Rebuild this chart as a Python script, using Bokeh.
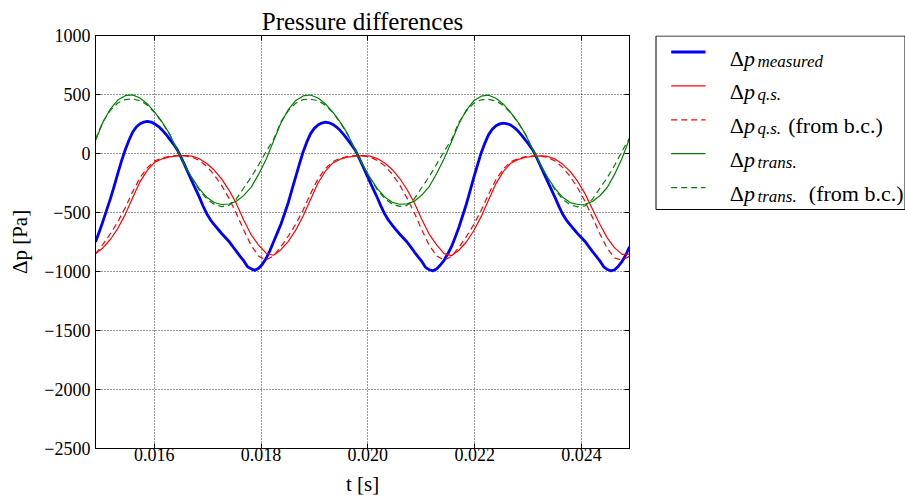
import numpy as np
from bokeh.plotting import figure
from bokeh.models import Range1d, LinearAxis, FixedTicker, CustomLabelingPolicy
from bokeh.layouts import row
from bokeh.embed import file_html
from bokeh.resources import INLINE
from bokeh.core.properties import value

# ---------------- data ----------------
T_START, T_END = 0.0149, 0.0249
t_fine = np.linspace(T_START, T_END, 145)    # grid of the measured curve
t = np.linspace(T_START, T_END, 73)          # grid of the model curves

DP_MEASURED = [
    -750, -665, -575, -480, -385, -280, -170, -65, 30, 110, 180, 225,
    252, 266, 272, 266, 250, 228, 198, 163, 122, 80, 35, -28,
    -95, -165, -235, -302, -370, -445, -510, -562, -603, -640, -678, -712,
    -745, -788, -830, -872, -910, -960, -978, -990, -972, -938, -890, -825,
    -750, -675, -600, -508, -415, -305, -195, -88, 15, 98, 168, 213,
    242, 258, 265, 260, 246, 224, 194, 158, 118, 75, 30, -33,
    -100, -170, -240, -308, -375, -448, -513, -565, -606, -645, -682, -716,
    -750, -792, -835, -876, -915, -965, -985, -994, -978, -945, -905, -850,
    -790, -710, -625, -528, -430, -318, -205, -98, 5, 88, 160, 206,
    236, 251, 257, 252, 240, 218, 188, 152, 112, 70, 25, -38,
    -105, -175, -243, -310, -378, -450, -515, -565, -604, -642, -679, -712,
    -745, -788, -830, -870, -910, -958, -983, -994, -985, -955, -915, -860,
    -790,
]
DP_QS = [
    -848, -800, -729, -636, -518, -378, -240, -141, -73, -45, -28, -20,
    -17, -22, -45, -85, -140, -215, -310, -425, -565, -690, -776, -845,
    -862, -815, -745, -650, -530, -390, -250, -150, -80, -48, -30, -22,
    -18, -22, -42, -80, -135, -210, -305, -420, -560, -685, -775, -848,
    -866, -820, -750, -655, -535, -395, -255, -152, -82, -50, -32, -24,
    -20, -25, -48, -92, -152, -235, -340, -470, -600, -715, -800, -855,
    -852,
]
DP_QS_BC = [
    -850, -770, -680, -580, -460, -325, -205, -120, -62, -38, -22, -17,
    -20, -30, -60, -110, -180, -270, -380, -510, -650, -780, -870, -902,
    -868, -790, -700, -598, -478, -340, -215, -128, -68, -40, -25, -18,
    -20, -30, -58, -105, -175, -265, -378, -505, -648, -778, -868, -905,
    -872, -795, -705, -602, -482, -345, -220, -130, -70, -42, -27, -20,
    -22, -33, -65, -120, -195, -290, -405, -540, -680, -805, -885, -905,
    -870,
]
DP_TRANS = [
    110, 265, 377, 453, 490, 497, 470, 420, 349, 265, 166, 30,
    -95, -205, -300, -370, -415, -432, -428, -405, -355, -285, -175, -50,
    105, 258, 372, 450, 488, 496, 470, 421, 350, 266, 166, 32,
    -92, -202, -298, -368, -414, -430, -427, -404, -352, -280, -170, -45,
    100, 252, 368, 447, 486, 494, 468, 418, 347, 262, 162, 28,
    -96, -206, -301, -371, -416, -432, -430, -407, -358, -288, -175, -40,
    125,
]
DP_TRANS_BC = [
    120, 270, 365, 428, 457, 462, 448, 410, 345, 262, 160, 30,
    -95, -210, -310, -385, -430, -450, -440, -385, -290, -200, -95, 15,
    118, 268, 363, 427, 456, 460, 447, 410, 346, 263, 160, 32,
    -92, -207, -308, -383, -428, -448, -440, -383, -288, -196, -90, 18,
    115, 265, 360, 425, 455, 459, 445, 408, 343, 260, 158, 28,
    -96, -212, -312, -388, -434, -452, -444, -388, -295, -205, -100, 20,
    130,
]

X_TICKS = [0.016, 0.018, 0.020, 0.022, 0.024]
X_TICK_LABELS = ["0.016", "0.018", "0.020", "0.022", "0.024"]
Y_TICKS = [-2500, -2000, -1500, -1000, -500, 0, 500, 1000]
Y_TICK_LABELS = ["\u22122500", "\u22122000", "\u22121500", "\u22121000", "\u2212500", "0", "500", "1000"]

LEGEND_SUB = ["measured", "q.s.", "q.s.", "trans.", "trans."]
LEGEND_SUFFIX = ["", "", "(from b.c.)", "", "(from b.c.)"]

# ---------------- styling ----------------
FONT = "Liberation Serif"
BLUE, RED, GREEN = "#0000ff", "#ff0000", "#008000"
DASH = "6 4"
TOP, BOTTOM = 35, 448          # frame edges in page pixels

p = figure(width=645, height=499,
           x_range=Range1d(T_START, T_END), y_range=Range1d(-2500, 1000),
           output_backend="svg", toolbar_location=None,
           min_border_left=95, min_border_right=16,
           min_border_top=TOP, min_border_bottom=499 - BOTTOM,
           title="Pressure differences",
           x_axis_label="t [s]", y_axis_label="\u0394p [Pa]")

p.line(t_fine, DP_MEASURED, line_color=BLUE, line_width=2.8, line_join="round")
p.line(t, DP_QS, line_color=RED, line_width=1.2)
p.line(t, DP_QS_BC, line_color=RED, line_width=1.2, line_dash=DASH)
p.line(t, DP_TRANS, line_color=GREEN, line_width=1.2)
p.line(t, DP_TRANS_BC, line_color=GREEN, line_width=1.2, line_dash=DASH)

p.title.text_font = FONT
p.title.text_font_size = "25px"
p.title.text_font_style = "normal"
p.title.text_color = "black"
p.title.align = "center"
p.title.standoff = 1

p.outline_line_color = "black"
p.outline_line_width = 1
p.background_fill_color = "white"
p.border_fill_color = "white"

p.xaxis.ticker = FixedTicker(ticks=X_TICKS)
p.yaxis.ticker = FixedTicker(ticks=Y_TICKS)
p.xaxis.major_label_overrides = dict(zip(X_TICKS, X_TICK_LABELS))
p.yaxis.major_label_overrides = dict(zip(Y_TICKS, Y_TICK_LABELS))

for ax in (p.xaxis[0], p.yaxis[0]):
    ax.axis_line_color = "black"
    ax.major_tick_line_color = "black"
    ax.major_tick_in = 5
    ax.major_tick_out = 0
    ax.minor_tick_in = 0
    ax.minor_tick_out = 0
    ax.major_label_text_font = FONT
    ax.major_label_text_font_size = "18px"
    ax.major_label_text_color = "black"
    ax.axis_label_text_font = FONT
    ax.axis_label_text_font_size = "21px"
    ax.axis_label_text_font_style = "normal"
    ax.axis_label_text_color = "black"

p.xaxis.major_label_standoff = -1
p.xaxis.axis_label_standoff = 8
p.yaxis.major_label_standoff = 5
p.yaxis.axis_label_standoff = 9

no_labels = CustomLabelingPolicy(code="""
for (const i of indices) { indices.unset(i) }
return indices
""")
for side, tick in (("above", X_TICKS), ("right", Y_TICKS)):
    ax = LinearAxis(ticker=FixedTicker(ticks=tick),
                    major_label_policy=no_labels,
                    major_label_text_font_size="0px", major_label_standoff=0,
                    major_tick_in=5, major_tick_out=0,
                    minor_tick_in=0, minor_tick_out=0,
                    axis_line_color="black", major_tick_line_color="black")
    p.add_layout(ax, side)

p.xgrid.ticker = FixedTicker(ticks=X_TICKS)
p.ygrid.ticker = FixedTicker(ticks=Y_TICKS)
p.grid.grid_line_color = "black"
p.grid.grid_line_alpha = 0.8
p.grid.grid_line_dash = "1 2"
p.grid.grid_line_width = 1

# ---------------- legend panel (page-pixel coordinates) ----------------
lg = figure(width=260, height=499, x_range=Range1d(0, 260), y_range=Range1d(BOTTOM, TOP),
            output_backend="svg", toolbar_location=None,
            x_axis_type=None, y_axis_type=None,
            min_border_left=0, min_border_right=0,
            min_border_top=TOP, min_border_bottom=499 - BOTTOM)
lg.grid.visible = False
lg.outline_line_color = None
lg.background_fill_color = "white"
lg.border_fill_color = "white"

lg.quad(left=[10.5], right=[259.5], top=[35.5], bottom=[209],
        fill_color="white", line_color="black", line_width=1)

styles = [(BLUE, 2.8, "solid"), (RED, 1.2, "solid"), (RED, 1.2, DASH),
          (GREEN, 1.2, "solid"), (GREEN, 1.2, DASH)]
row_y = [51.5 + i * 33.9 for i in range(len(LEGEND_SUB))]
for (col, lw, dash), y in zip(styles, row_y):
    lg.line([25.7, 60], [y, y], line_color=col, line_width=lw, line_dash=dash)

base_y = [y + 6 for y in row_y]
sub_y = [y + 9 for y in row_y]
n = len(LEGEND_SUB)
lg.text(x=[84.3] * n, y=base_y, text=["\u0394"] * n, text_font=value(FONT),
        text_font_size="22px", text_baseline="alphabetic", text_color="black")
lg.text(x=[98.5] * n, y=base_y, text=["p"] * n, text_font=value(FONT),
        text_font_size="22px", text_font_style="italic",
        text_baseline="alphabetic", text_color="black")
lg.text(x=[112] * n, y=sub_y, text=LEGEND_SUB, text_font=value(FONT),
        text_font_size="17px", text_font_style="italic",
        text_baseline="alphabetic", text_color="black")
suffix_x = [0, 0, 142.7, 0, 163.3]
idx = [i for i, s in enumerate(LEGEND_SUFFIX) if s]
lg.text(x=[suffix_x[i] for i in idx], y=[base_y[i] for i in idx],
        text=[LEGEND_SUFFIX[i] for i in idx], text_font=value(FONT),
        text_font_size="22px", text_baseline="alphabetic", text_color="black")

layout = row(p, lg)
open("out.html", "w").write(file_html(layout, INLINE))
